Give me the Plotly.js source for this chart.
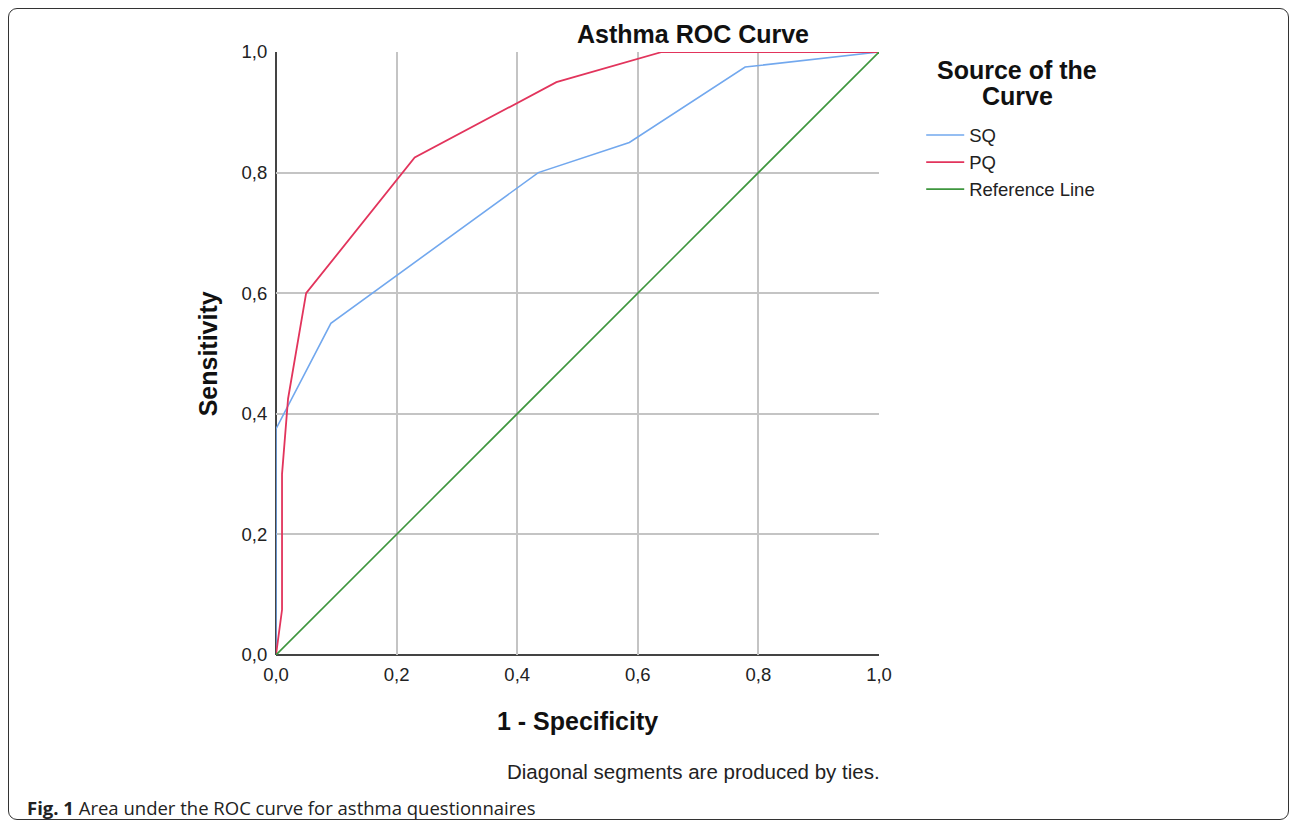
<!DOCTYPE html>
<html><head><meta charset="utf-8">
<script src="https://cdn.plot.ly/plotly-3.0.1.min.js"></script>
<style>
html,body{margin:0;padding:0;background:#fff;}
#wrap{position:relative;width:1292px;height:829px;}
#chart{position:absolute;left:0;top:0;width:1292px;height:829px;}
#frame{position:absolute;left:8px;top:8px;width:1281px;height:812px;border:1px solid #333;border-radius:9px;pointer-events:none;box-sizing:border-box;}
</style></head>
<body><div id="wrap"><div id="chart"></div><div id="frame"></div></div>
<script>
const sqX = [0, 0, 0.091, 0.435, 0.586, 0.778, 1];
const sqY = [0, 0.375, 0.55, 0.80, 0.85, 0.975, 1];
const pqX = [0, 0.01, 0.01, 0.02, 0.05, 0.23, 0.465, 0.64, 1];
const pqY = [0, 0.075, 0.30, 0.425, 0.60, 0.825, 0.95, 1, 1];
const refX = [0, 1];
const refY = [0, 1];
const tickVals = [0, 0.2, 0.4, 0.6, 0.8, 1.0];
const tickText = ['0,0', '0,2', '0,4', '0,6', '0,8', '1,0'];

const F = 'Liberation Sans, Arial, sans-serif';
const traces = [
  {x: sqX, y: sqY, name: 'SQ', mode: 'lines', line: {color: '#72a8ee', width: 1.6}},
  {x: pqX, y: pqY, name: 'PQ', mode: 'lines', line: {color: '#e2345c', width: 1.8}},
  {x: refX, y: refY, name: 'Reference Line', mode: 'lines', line: {color: '#3e963e', width: 1.6}}
];
const axisCommon = {
  range: [0, 1], tickvals: tickVals, ticktext: tickText,
  showgrid: true, gridcolor: '#c4c4c4', gridwidth: 2,
  zeroline: false, showline: false, ticks: 'outside', tickcolor: 'rgba(0,0,0,0)',
  tickfont: {family: F, size: 18.5, color: '#222'}, fixedrange: true
};
const layout = {
  width: 1292, height: 829,
  paper_bgcolor: 'rgba(0,0,0,0)', plot_bgcolor: '#fff',
  margin: {l: 276, r: 413, t: 52, b: 174},
  showlegend: true,
  legend: {x: 1.07, y: 0.893, xanchor: 'left', yanchor: 'top',
    font: {family: F, size: 18.5, color: '#222'}, tracegroupgap: 0, itemwidth: 38,
    bgcolor: 'rgba(0,0,0,0)'},
  xaxis: Object.assign({}, axisCommon, {ticklen: 3}),
  yaxis: Object.assign({}, axisCommon, {ticklen: 4}),
  shapes: [
    {type: 'line', xref: 'paper', yref: 'paper', x0: 0, x1: 0, y0: 0, y1: 1, layer: 'below', line: {color: '#444', width: 2}},
    {type: 'line', xref: 'paper', yref: 'paper', x0: 0, x1: 1, y0: 0, y1: 0, layer: 'below', line: {color: '#444', width: 2}}
  ],
  annotations: [
    {text: '<b>Asthma ROC Curve</b>', xref: 'paper', yref: 'paper', x: 0.691, y: 1.03, xanchor: 'center', yanchor: 'middle',
      showarrow: false, font: {family: F, size: 25, color: '#111'}},
    {text: '<b>1 - Specificity</b>', xref: 'paper', yref: 'paper', x: 0.5, y: -0.109, xanchor: 'center', yanchor: 'middle',
      showarrow: false, font: {family: F, size: 25, color: '#111'}},
    {text: '<b>Sensitivity</b>', xref: 'paper', yref: 'paper', x: -0.113, y: 0.5, xanchor: 'center', yanchor: 'middle', textangle: -90,
      showarrow: false, font: {family: F, size: 25, color: '#111'}},
    {text: '<b>Source of the</b>', xref: 'paper', yref: 'paper', x: 1.229, y: 0.970, xanchor: 'center', yanchor: 'middle',
      showarrow: false, font: {family: F, size: 25, color: '#111'}},
    {text: '<b>Curve</b>', xref: 'paper', yref: 'paper', x: 1.229, y: 0.927, xanchor: 'center', yanchor: 'middle',
      showarrow: false, font: {family: F, size: 25, color: '#111'}},
    {text: 'Diagonal segments are produced by ties.', xref: 'paper', yref: 'paper', x: 1.005, y: -0.193, xanchor: 'right', yanchor: 'middle',
      showarrow: false, font: {family: F, size: 20.5, color: '#222'}},
    {text: '<b>Fig. 1</b> Area under the ROC curve for asthma questionnaires', xref: 'paper', yref: 'paper', x: -0.416, y: -0.253, xanchor: 'left', yanchor: 'middle',
      showarrow: false, font: {family: 'Open Sans, sans-serif', size: 18.5, color: '#222'}}
  ]
};
Plotly.newPlot('chart', traces, layout, {displayModeBar: false, staticPlot: true});
</script></body></html>
